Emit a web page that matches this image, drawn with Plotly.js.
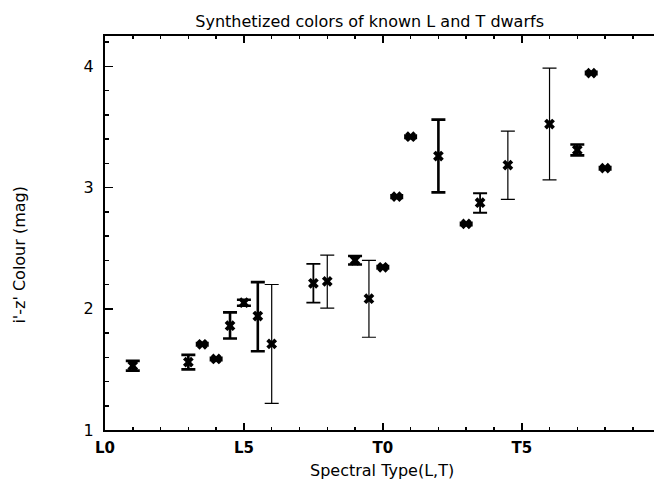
<!DOCTYPE html>
<html>
<head>
<meta charset="utf-8">
<script src="https://cdn.plot.ly/plotly-3.0.1.min.js"></script>
<style>html,body{margin:0;padding:0;background:#fff;overflow:hidden;}</style>
</head>
<body>
<div id="chart" style="width:654px;height:481px;"></div>
<script>
// Spectral type index: L0 = 0 ... L9.5 = 9.5, T0 = 10 ... T8 = 18
const tickVals  = [0, 5, 10, 15];
const tickText  = ['L0', 'L5', 'T0', 'T5'];

// thick error bars
const thickType  = [1, 3, 4.5, 5, 5.5, 9, 12, 17];
const thickColor = [1.53, 1.56, 1.86, 2.05, 1.94, 2.40, 3.26, 3.31];
const thickErrUp = [0.04, 0.06, 0.11, 0.025, 0.28, 0.035, 0.30, 0.045];
const thickErrDn = [0.04, 0.06, 0.105, 0.025, 0.29, 0.035, 0.30, 0.045];

// medium error bars
const medType  = [7.5, 13.5];
const medColor = [2.21, 2.875];
const medErrUp = [0.16, 0.078];
const medErrDn = [0.16, 0.083];

// thin error bars
const thinType  = [6, 8, 9.5, 14.5, 16];
const thinColor = [1.71, 2.226, 2.083, 3.185, 3.524];
const thinErrUp = [0.49, 0.216, 0.317, 0.281, 0.461];
const thinErrDn = [0.49, 0.221, 0.318, 0.282, 0.461];

// points with very small uncertainties
const smallType  = [3.5, 4, 10, 10.5, 11, 13, 17.5, 18];
const smallColor = [1.707, 1.586, 2.342, 2.925, 3.419, 2.70, 3.944, 3.16];
const smallErr   = [0.01, 0.01, 0.01, 0.01, 0.01, 0.01, 0.01, 0.01];

function tr(x, y, up, dn, th, w) {
  return {
    x: x, y: y, type: 'scatter', mode: 'markers',
    marker: {symbol: 'x', size: 9.5, color: '#000'},
    error_y: {type: 'data', symmetric: false, array: up, arrayminus: dn,
              color: '#000', thickness: th, width: w},
    showlegend: false, hoverinfo: 'skip'
  };
}

const data = [
  tr(thickType, thickColor, thickErrUp, thickErrDn, 2.6, 7),
  tr(medType, medColor, medErrUp, medErrDn, 1.8, 7),
  tr(thinType, thinColor, thinErrUp, thinErrDn, 1.2, 7),
  tr(smallType, smallColor, smallErr, smallErr, 2.6, 6.5)
];

const fnt = 'DejaVu Sans, sans-serif';
const layout = {
  width: 654, height: 481,
  margin: {l: 105, r: 0, t: 36, b: 51},
  paper_bgcolor: '#fff', plot_bgcolor: '#fff',
  title: {text: 'Synthetized colors of known L and T dwarfs',
          font: {family: fnt, size: 16, color: '#000'},
          x: 0.482, xanchor: 'center', xref: 'paper', y: 0.955, yanchor: 'middle'},
  xaxis: {
    range: [0, 19.76], tickmode: 'array', tickvals: tickVals, ticktext: tickText,
    ticks: 'inside', ticklen: 7, tickwidth: 1.5, tickcolor: '#000',
    minor: {dtick: 1, tick0: 0, ticks: 'inside', ticklen: 3, tickwidth: 1.5, tickcolor: '#000'},
    showline: true, linecolor: '#000', linewidth: 2, mirror: 'ticks',
    showgrid: false, zeroline: false,
    tickfont: {family: fnt, size: 15, color: '#000', weight: 'bold'},
    ticklabelstandoff: 3
  },
  yaxis: {
    range: [1, 4.25], tickmode: 'array', tickvals: [1, 2, 3, 4],
    ticks: 'inside', ticklen: 8, tickwidth: 1.5, tickcolor: '#000',
    minor: {dtick: 0.2, tick0: 1, ticks: 'inside', ticklen: 4, tickwidth: 1.5, tickcolor: '#000'},
    showline: true, linecolor: '#000', linewidth: 2, mirror: false,
    showgrid: false, zeroline: false,
    tickfont: {family: fnt, size: 16, color: '#000'},
    ticklabelstandoff: 6
  },
  annotations: [
    {text: 'Spectral Type(L,T)', xref: 'paper', yref: 'paper', x: 0.505, y: -0.103,
     xanchor: 'center', yanchor: 'middle', showarrow: false,
     font: {family: fnt, size: 16, color: '#000'}},
    {text: "i'-z' Colour (mag)", xref: 'paper', yref: 'paper', x: -0.155, y: 0.445,
     xanchor: 'center', yanchor: 'middle', textangle: -90, showarrow: false,
     font: {family: fnt, size: 16, color: '#000'}}
  ]
};

Plotly.newPlot('chart', data, layout, {displayModeBar: false, staticPlot: true});
</script>
</body>
</html>
